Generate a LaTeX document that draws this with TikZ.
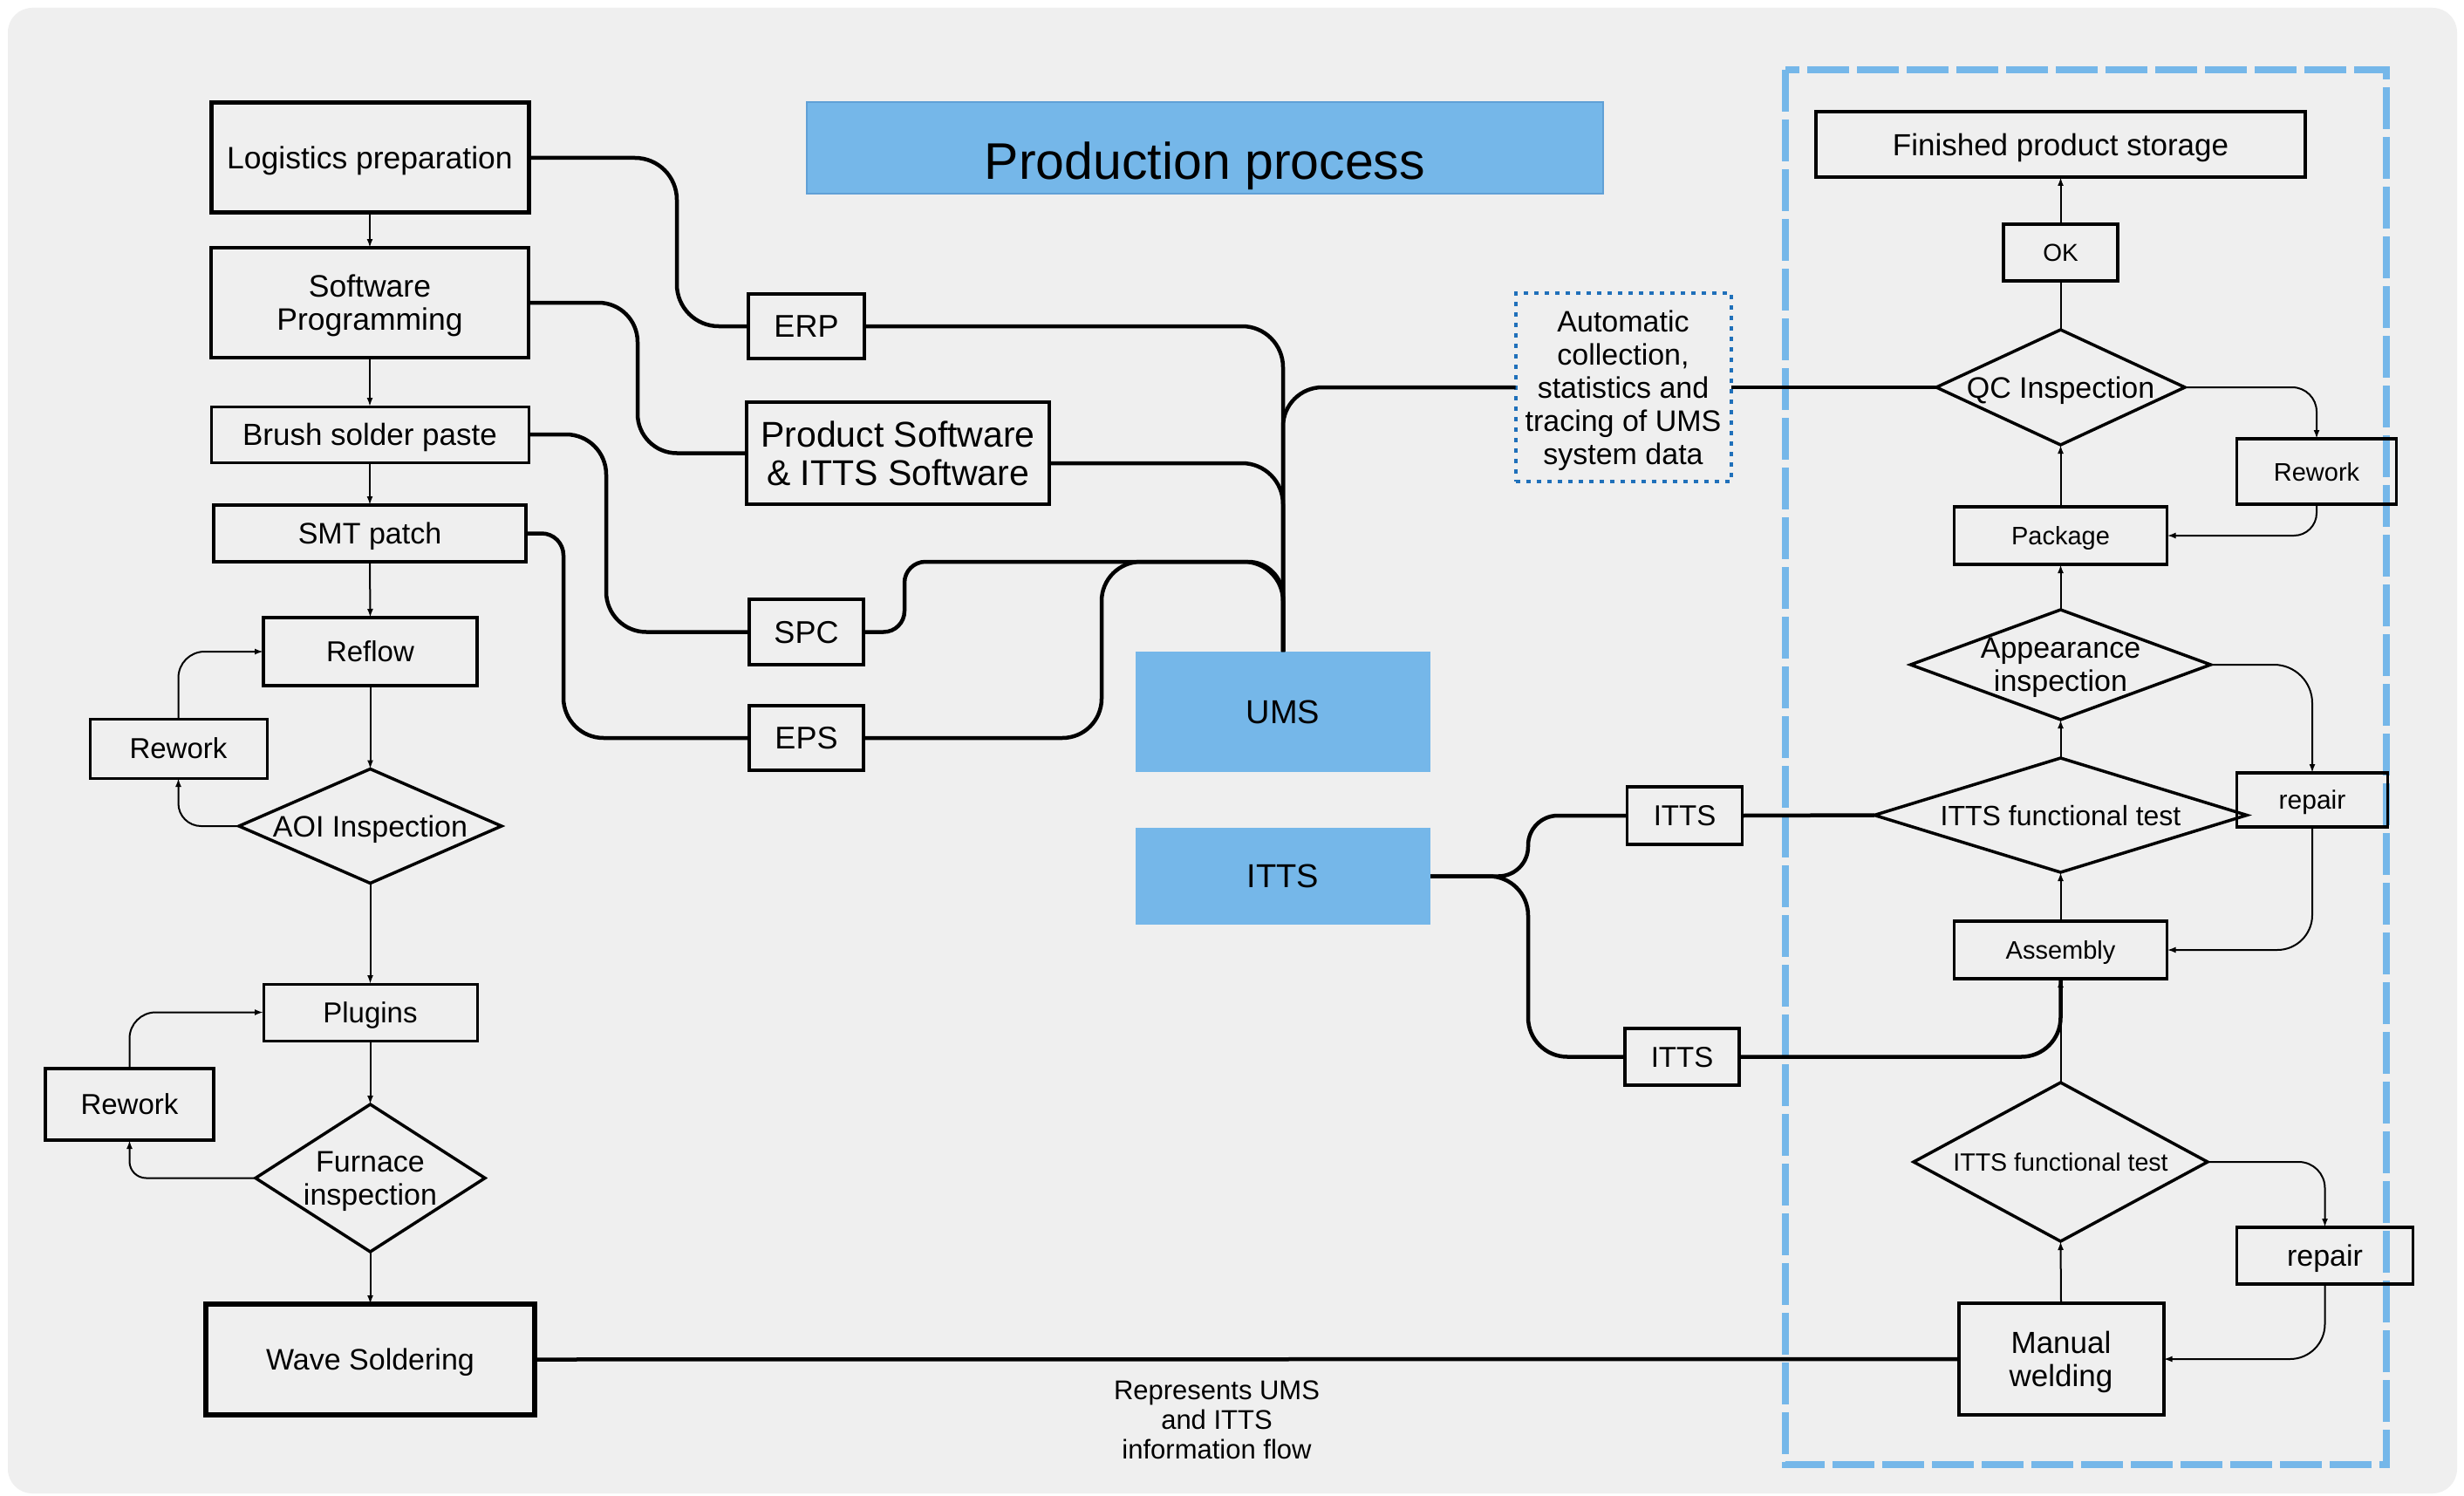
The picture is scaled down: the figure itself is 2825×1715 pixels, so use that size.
\documentclass[tikz,border=0pt]{standalone}
\usepackage{fontspec}
\setmainfont{Liberation Sans}
\usetikzlibrary{arrows.meta,shapes.geometric,calc}
\definecolor{procblue}{RGB}{117,183,233}
\definecolor{procedge}{RGB}{96,160,214}
\definecolor{bggray}{RGB}{239,239,239}
\definecolor{dotblue}{RGB}{31,112,186}
\newcommand{\myfs}[2]{\fontsize{#1}{#2}\selectfont}

\begin{document}
\begin{tikzpicture}[x=1pt,y=-1pt,
  every node/.style={inner sep=0pt, outer sep=0pt, align=center, text depth=0pt, font=\myfs{34}{38}},
  stepbox/.style={draw, rectangle, line width=3.5pt},
  decision/.style={draw, diamond, line width=3.5pt},
  sysbox/.style={rectangle, fill=procblue},
  flow/.style={line width=2pt, -{Latex[length=10pt,width=7pt]}},
  plain/.style={line width=2pt},
  info/.style={line width=4.5pt},
]
% page and panel
\useasboundingbox (0,0) rectangle (2825,1715);
\fill[white] (0,0) rectangle (2825,1715);
\fill[bggray, rounded corners=28pt] (9,9) rectangle (2817,1712);

% assembly area frame
\draw[procblue, line width=8pt, dash pattern=on 48pt off 9pt] (2047,80) rectangle (2736,1679);

% title
\node[sysbox, draw=procedge, line width=1.2pt, minimum width=913, minimum height=105,
      label={[font=\myfs{59}{64}, yshift=-15pt]center:Production process}] (title) at (1381.5,169.5) {};

% ---------- left column: board process ----------
\node[stepbox, line width=5pt, minimum width=364, minimum height=126, font=\myfs{35.5}{39}] (logi) at (424,181) {Logistics preparation};
\node[stepbox, line width=4pt, minimum width=364, minimum height=126, font=\myfs{35.5}{38}] (soft) at (424,347) {Software\\Programming};
\node[stepbox, line width=3pt, minimum width=364, minimum height=64, font=\myfs{35}{38}] (brush) at (424,498) {Brush solder paste};
\node[stepbox, minimum width=358, minimum height=65] (smt) at (424,611.5) {SMT patch};
\node[stepbox, minimum width=245, minimum height=78, font=\myfs{33}{38}] (reflow) at (424.5,747) {Reflow};
\node[stepbox, line width=3pt, minimum width=203, minimum height=68, font=\myfs{33}{38}] (rework1) at (204.5,858) {Rework};
\node[decision, minimum width=301, minimum height=131, label={center:AOI Inspection}] (aoi) at (424.5,947) {};
\node[stepbox, line width=3pt, minimum width=245, minimum height=65, font=\myfs{33}{38}] (plugins) at (424.5,1160.5) {Plugins};
\node[stepbox, minimum width=193, minimum height=82, font=\myfs{33}{38}] (rework2) at (148.5,1266) {Rework};
\node[decision, minimum width=263, minimum height=169, label={center:Furnace\\inspection}] (furnace) at (424.5,1350.5) {};
\node[stepbox, line width=6pt, minimum width=377, minimum height=127] (wave) at (424.5,1558.5) {Wave Soldering};

% ---------- middle: data sources and systems ----------
\node[stepbox, minimum width=133, minimum height=74, font=\myfs{36}{40}] (erp) at (924.5,374) {ERP};
\node[stepbox, minimum width=347, minimum height=117, font=\myfs{41}{44}] (prod) at (1029.5,519.5) {Product Software\\\& ITTS Software};
\node[stepbox, minimum width=131, minimum height=75, font=\myfs{36}{40}] (spc) at (924.5,724.5) {SPC};
\node[stepbox, minimum width=131, minimum height=74, font=\myfs{36}{40}] (eps) at (924.5,846) {EPS};
\node[sysbox, minimum width=338, minimum height=138, font=\myfs{38}{42}] (ums) at (1471,816) {UMS};
\node[sysbox, minimum width=338, minimum height=111, font=\myfs{38}{42}] (itts) at (1471,1004.5) {ITTS};
\node[draw=dotblue, line width=4pt, dash pattern=on 5pt off 7pt, minimum width=247, minimum height=216] (auto) at (1861,444)
  {Automatic\\collection,\\statistics and\\tracing of UMS\\system data};
\node[stepbox, minimum width=132, minimum height=66, font=\myfs{33}{38}] (ittsa) at (1931.5,935) {ITTS};
\node[stepbox, minimum width=131, minimum height=65, font=\myfs{33}{38}] (ittsb) at (1928.5,1211.5) {ITTS};
\node[font=\myfs{31}{34}] (legend) at (1395,1628) {Represents UMS\\and ITTS\\information flow};

% ---------- right column: assembly process ----------
\node[stepbox, minimum width=561, minimum height=75, font=\myfs{35}{38}] (fin) at (2362.5,165.5) {Finished product storage};
\node[stepbox, minimum width=131, minimum height=65, font=\myfs{28}{32}] (ok) at (2362.5,289.5) {OK};
\node[decision, minimum width=285, minimum height=132, label={center:QC Inspection}] (qc) at (2362.5,444) {};
\node[stepbox, minimum width=183, minimum height=75, font=\myfs{29}{32}] (rework3) at (2656,540.5) {Rework};
\node[stepbox, minimum width=244, minimum height=66, font=\myfs{29}{32}] (pkg) at (2362.5,614) {Package};
\node[decision, minimum width=344, minimum height=126, label={center:Appearance\\inspection}] (appear) at (2362.5,762) {};
\node[decision, minimum width=427, minimum height=131, label={[font=\myfs{32}{34}]center:ITTS functional test}] (ifa) at (2362.5,934.5) {};
\node[stepbox, minimum width=173, minimum height=62, font=\myfs{30}{34}] (repair1) at (2651,917) {repair};
\node[stepbox, minimum width=244, minimum height=66, font=\myfs{29}{32}] (asm) at (2362.5,1089) {Assembly};
\node[decision, minimum width=337, minimum height=182, label={[font=\myfs{28.6}{32}]center:ITTS functional test}] (ifb) at (2362.5,1332) {};
\node[stepbox, minimum width=202, minimum height=65] (repair2) at (2665.5,1439.5) {repair};
\node[stepbox, line width=4pt, minimum width=235, minimum height=128, font=\myfs{35}{38}] (manual) at (2363,1558) {Manual\\welding};

% ---------- process flow (thin arrows) ----------
\draw[flow] (logi.south) -- (soft.north);
\draw[flow] (soft.south) -- (brush.north);
\draw[flow] (brush.south) -- (smt.north);
\draw[flow] (smt.south) -- (reflow.north);
\draw[flow] (reflow.south) -- (aoi.north);
\draw[flow] (aoi.south) -- (plugins.north);
\draw[flow] (plugins.south) -- (furnace.north);
\draw[flow] (furnace.south) -- (wave.north);
\draw[flow, rounded corners=26pt] (aoi.west) -| (rework1.south);
\draw[flow, rounded corners=30pt] (rework1.north) |- (reflow.west);
\draw[flow, rounded corners=19pt] (furnace.west) -| (rework2.south);
\draw[flow, rounded corners=30pt] (rework2.north) |- (plugins.west);

\draw[flow] (manual.north) -- (ifb.south);
\draw[flow] (ifb.north) -- (asm.south);
\draw[flow] (asm.north) -- (ifa.south);
\draw[flow] (ifa.north) -- (appear.south);
\draw[flow] (appear.north) -- (pkg.south);
\draw[flow] (pkg.north) -- (qc.south);
\draw[plain] (qc.north) -- (ok.south);
\draw[flow] (ok.north) -- (fin.south);
\draw[flow, rounded corners=28pt] (qc.east) -| (rework3.north);
\draw[flow, rounded corners=26pt] (rework3.south) |- (pkg.east);
\draw[flow, rounded corners=44pt] (appear.east) -| (repair1.north);
\draw[flow, rounded corners=40pt] (repair1.south) |- (asm.east);
\draw[flow, rounded corners=30pt] (ifb.east) -| (repair2.north);
\draw[flow, rounded corners=40pt] (repair2.south) |- (manual.east);

% ---------- information flow (thick lines) ----------
\coordinate (c1) at (776,0);
\coordinate (c2) at (731,0);
\coordinate (c3) at (695,0);
\coordinate (c4) at (646,0);
\draw[info, rounded corners=48pt] (logi.east) -| (c1 |- erp.west) -- (erp.west);
\draw[info, rounded corners=45pt] (soft.east) -| (c2 |- prod.west) -- (prod.west);
\draw[info, rounded corners=46pt] (brush.east) -| (c3 |- spc.west) -- (spc.west);
\draw[info] (smt.east) [rounded corners=25pt] -- (c4 |- smt.east) [rounded corners=46pt] -- (c4 |- eps.west) -- (eps.west);

\coordinate (pe) at ([yshift=-11.5pt]prod.east);
\coordinate (spcUp) at (1037,644);
\coordinate (epsUp) at (1263,644);
\draw[info, rounded corners=47pt] (erp.east) -- (erp.east -| ums.north) -- (ums.north);
\draw[info, rounded corners=47pt] (pe) -- (pe -| ums.north) -- (ums.north);
\draw[info] (spc.east) [rounded corners=24pt] -| (spcUp) [rounded corners=40pt] -- (spcUp -| ums.north) [rounded corners=47pt] -- (ums.north);
\draw[info, rounded corners=45pt] (eps.east) -| (epsUp) -- (epsUp -| ums.north) -- (ums.north);
\draw[info, rounded corners=45pt] (auto.west) -- (auto.west -| ums.north) -- (ums.north);
\draw[info] (auto.east) -- (qc.west);

\coordinate (br) at (1752,1004.5);
\draw[info, rounded corners=34pt] (itts.east) -- (br) |- (ittsa.west);
\draw[info, rounded corners=45pt] (itts.east) -- (br) |- (ittsb.west);
\draw[info] (ittsa.east) -- (ifa.west);
\draw[info, rounded corners=45pt] (ittsb.east) -| (asm.south);
\draw[info] (wave.east) -- (manual.west);
\end{tikzpicture}
\end{document}
